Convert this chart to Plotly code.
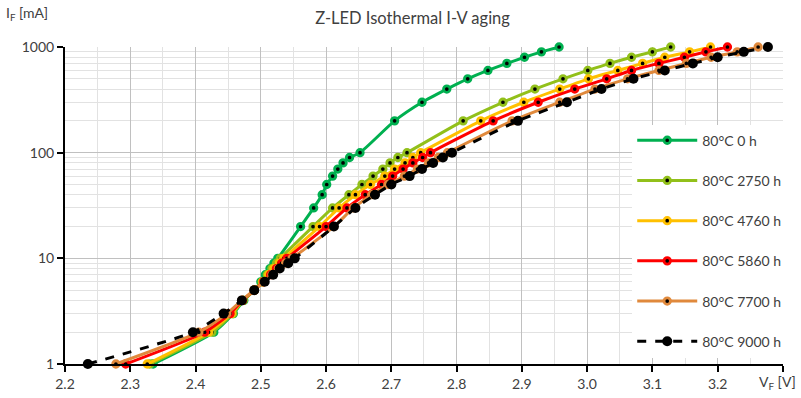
import plotly.graph_objects as go

current_mA = [1, 2, 3, 4, 5, 6, 7, 8, 9, 10, 20, 30, 40, 50, 60, 70, 80, 90, 100,
              200, 300, 400, 500, 600, 700, 800, 900, 1000]

v_0h = [2.335, 2.428, 2.458, 2.474, 2.490, 2.500, 2.507, 2.514, 2.520, 2.526,
        2.561, 2.581, 2.594, 2.601, 2.610, 2.618, 2.626, 2.636, 2.652,
        2.705, 2.747, 2.785, 2.817, 2.848, 2.877, 2.904, 2.930, 2.957]
v_2750h = [2.330, 2.425, 2.457, 2.473, 2.490, 2.502, 2.510, 2.517, 2.524, 2.530,
           2.580, 2.610, 2.635, 2.655, 2.672, 2.687, 2.698, 2.710, 2.724,
           2.810, 2.871, 2.920, 2.963, 3.001, 3.035, 3.068, 3.100, 3.128]
v_4760h = [2.326, 2.420, 2.455, 2.472, 2.490, 2.503, 2.512, 2.520, 2.528, 2.535,
           2.590, 2.620, 2.645, 2.668, 2.690, 2.705, 2.721, 2.733, 2.745,
           2.837, 2.903, 2.958, 3.002, 3.047, 3.085, 3.119, 3.157, 3.189]
v_5860h = [2.293, 2.414, 2.453, 2.472, 2.490, 2.504, 2.515, 2.524, 2.532, 2.540,
           2.600, 2.632, 2.660, 2.685, 2.702, 2.718, 2.733, 2.748, 2.760,
           2.856, 2.925, 2.981, 3.030, 3.068, 3.110, 3.149, 3.182, 3.215]
v_7700h = [2.278, 2.405, 2.448, 2.471, 2.490, 2.505, 2.517, 2.527, 2.538, 2.548,
           2.612, 2.642, 2.670, 2.695, 2.720, 2.740, 2.757, 2.772, 2.786,
           2.885, 2.958, 3.012, 3.062, 3.110, 3.152, 3.190, 3.230, 3.262]
v_9000h = [2.235, 2.396, 2.443, 2.471, 2.490, 2.506, 2.519, 2.529, 2.542, 2.552,
           2.612, 2.645, 2.675, 2.700, 2.728, 2.747, 2.764, 2.779, 2.793,
           2.894, 2.969, 3.022, 3.071, 3.119, 3.162, 3.200, 3.240, 3.277]

series_names = ["80°C 0 h", "80°C 2750 h", "80°C 4760 h", "80°C 5860 h", "80°C 7700 h", "80°C 9000 h"]
series_values = [v_0h, v_2750h, v_4760h, v_5860h, v_7700h, v_9000h]
colors = ["#00b050", "#92c01a", "#ffc000", "#ff0000", "#e0893c", "#000000"]

x_tickvals = [2.2, 2.3, 2.4, 2.5, 2.6, 2.7, 2.8, 2.9, 3.0, 3.1, 3.2, 3.3]
x_ticktext = ["2.2", "2.3", "2.4", "2.5", "2.6", "2.7", "2.8", "2.9", "3.0", "3.1", "3.2", ""]
x_title = "V<sub>F</sub> [V]"
y_tickvals = [1, 10, 100, 1000]
y_title = "I<sub>F</sub> [mA]"

FONT = "Lato, 'Open Sans', sans-serif"
TXT = "#404040"

fig = go.Figure()
for i, (name, vals, col) in enumerate(zip(series_names, series_values, colors)):
    if col == "#000000":
        fig.add_trace(go.Scatter(
            x=vals, y=current_mA, name=name, mode="lines+markers", cliponaxis=False,
            line=dict(color=col, width=3, dash="dash", shape="spline", smoothing=0.6),
            marker=dict(color=col, size=10, symbol="circle"),
            legendgroup=f"g{i}"))
    else:
        fig.add_trace(go.Scatter(
            x=vals, y=current_mA, name=name, mode="lines+markers", cliponaxis=False,
            line=dict(color=col, width=3, shape="spline", smoothing=0.6),
            marker=dict(color="#000000", size=6.5, symbol="circle",
                        line=dict(color=col, width=2.8)),
            legendgroup=f"g{i}"))

fig.update_layout(
    width=801, height=398,
    margin=dict(l=65, r=18, t=47, b=34, autoexpand=False),
    paper_bgcolor="white", plot_bgcolor="white",
    font=dict(family=FONT, size=14, color=TXT),
    title=dict(text="Z-LED Isothermal I-V aging", x=0.515, xanchor="center",
               y=0.955, yanchor="middle", font=dict(family=FONT, size=16.5, color=TXT)),
    showlegend=True,
    legend=dict(x=0.79, y=0.755, xanchor="left", yanchor="top",
                bgcolor="white", borderwidth=0, font=dict(family=FONT, size=14, color=TXT),
                itemwidth=60, tracegroupgap=19),
    xaxis=dict(range=[2.2, 3.3001], tickvals=x_tickvals, ticktext=x_ticktext,
               automargin=False,
               showgrid=True, gridcolor="#c0c0c0", gridwidth=1,
               minor=dict(dtick=0.05, showgrid=True, gridcolor="#e2e2e2", gridwidth=1),
               showline=True, linecolor="black", linewidth=2,
               ticks="outside", ticklen=6, tickcolor="black", tickwidth=2,
               zeroline=False, tickfont=dict(family=FONT, size=14, color=TXT)),
    yaxis=dict(type="log", range=[0, 3.0001], tickvals=y_tickvals,
               ticktext=["1", "10", "100", "1000"], automargin=False,
               showgrid=True, gridcolor="#c0c0c0", gridwidth=1,
               minor=dict(dtick="D1", showgrid=True, gridcolor="#e2e2e2", gridwidth=1),
               showline=True, linecolor="black", linewidth=2,
               ticks="outside", ticklen=6, tickcolor="black", tickwidth=2,
               zeroline=False, tickfont=dict(family=FONT, size=14, color=TXT)),
    annotations=[
        dict(text=y_title, xref="paper", yref="paper",
             x=-0.085, y=1.105, xanchor="left", yanchor="middle",
             showarrow=False, font=dict(family=FONT, size=14, color=TXT)),
        dict(text=x_title, xref="x", yref="paper", x=3.3, y=0, xanchor="center",
             yanchor="top", xshift=-5, yshift=-7,
             showarrow=False, font=dict(family=FONT, size=14, color=TXT)),
    ],
)

fig.write_html("out.html")
